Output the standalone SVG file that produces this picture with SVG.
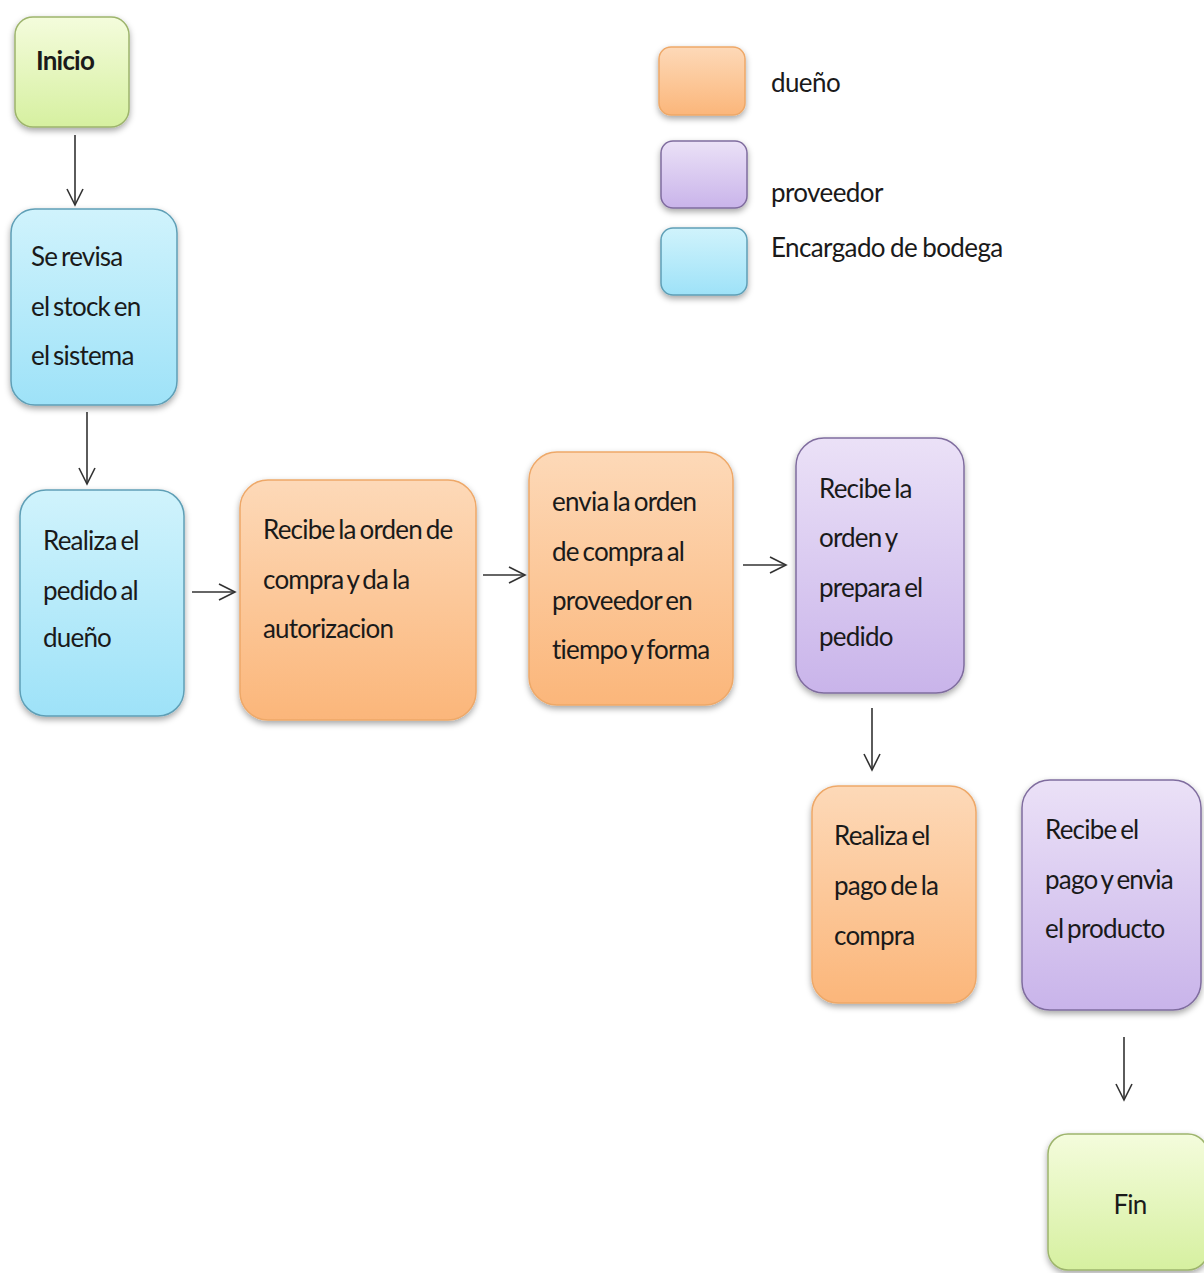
<svg xmlns="http://www.w3.org/2000/svg" width="1204" height="1273" viewBox="0 0 1204 1273">
<defs>
<linearGradient id="gOr" x1="0" y1="0" x2="0" y2="1"><stop offset="0" stop-color="#fdd9b8"/><stop offset="1" stop-color="#fbb67a"/></linearGradient>
<linearGradient id="gPu" x1="0" y1="0" x2="0" y2="1"><stop offset="0" stop-color="#ebe1f7"/><stop offset="1" stop-color="#c9b4ea"/></linearGradient>
<linearGradient id="gBl" x1="0" y1="0" x2="0" y2="1"><stop offset="0" stop-color="#d0f3fc"/><stop offset="1" stop-color="#9ee2f8"/></linearGradient>
<linearGradient id="gGr" x1="0" y1="0" x2="0" y2="1"><stop offset="0" stop-color="#f4fcdc"/><stop offset="1" stop-color="#d6f0a0"/></linearGradient>
<filter id="sh" x="-20%" y="-20%" width="140%" height="140%"><feDropShadow dx="0" dy="3" stdDeviation="3" flood-color="#000" flood-opacity="0.35"/></filter>
<marker id="ah" viewBox="0 0 20 20" refX="18" refY="10" markerWidth="20" markerHeight="20" markerUnits="userSpaceOnUse" orient="auto"><path d="M2,2 L18,10 L2,18" fill="none" stroke="#333" stroke-width="1.6"/></marker>
</defs>
<style>
.or{fill:url(#gOr);stroke:#eea868;stroke-width:1.5;filter:url(#sh)}
.pu{fill:url(#gPu);stroke:#7f6c9e;stroke-width:1.5;filter:url(#sh)}
.bl{fill:url(#gBl);stroke:#5f9fb6;stroke-width:1.5;filter:url(#sh)}
.gr{fill:url(#gGr);stroke:#9db46c;stroke-width:1.5;filter:url(#sh)}
text{font-family:Lato,"Liberation Sans",sans-serif;font-size:26px;letter-spacing:-0.8px;word-spacing:-2px;fill:#1a1a1a;dominant-baseline:middle}
.lg{font-size:26px;letter-spacing:-0.6px;word-spacing:-1px}
.c{stroke:#333;stroke-width:1.6;fill:none;marker-end:url(#ah)}
</style>
<rect width="1204" height="1273" fill="#ffffff"/>
<g id="legend">
<rect class="or" x="659" y="47" width="86" height="68" rx="12"/>
<rect class="pu" x="661" y="141" width="86" height="67" rx="12"/>
<rect class="bl" x="661" y="228" width="86" height="67" rx="12"/>
<text class="lg" x="771" y="85">dueño</text>
<text class="lg" x="771" y="195">proveedor</text>
<text class="lg" x="771" y="250">Encargado de bodega</text>
</g>
<g id="connectors">
<line class="c" x1="75" y1="135" x2="75" y2="205"/>
<line class="c" x1="87" y1="412" x2="87" y2="484"/>
<line class="c" x1="192" y1="592" x2="235" y2="592"/>
<line class="c" x1="483" y1="575" x2="525" y2="575"/>
<line class="c" x1="743" y1="565" x2="786" y2="565"/>
<line class="c" x1="872" y1="708" x2="872" y2="770"/>
<line class="c" x1="1124" y1="1037" x2="1124" y2="1100"/>
</g>
<g id="inicio">
<rect class="gr" x="15" y="17" width="114" height="110" rx="18"/>
<text x="36" y="63" font-weight="bold">Inicio</text>
</g>
<g id="revisa">
<rect class="bl" x="11" y="209" width="166" height="196" rx="24"/>
<text x="31" y="259">Se revisa</text>
<text x="31" y="309">el stock en</text>
<text x="31" y="358">el sistema</text>
</g>
<g id="pedido">
<rect class="bl" x="20" y="490" width="164" height="226" rx="26"/>
<text x="43" y="543">Realiza el</text>
<text x="43" y="593">pedido al</text>
<text x="43" y="640">dueño</text>
</g>
<g id="autoriza">
<rect class="or" x="240" y="480" width="236" height="240" rx="28"/>
<text x="263" y="532">Recibe la orden de</text>
<text x="263" y="582">compra y da la</text>
<text x="263" y="631">autorizacion</text>
</g>
<g id="envia">
<rect class="or" x="529" y="452" width="204" height="253" rx="28"/>
<text x="552" y="504">envia la orden</text>
<text x="552" y="554">de compra al</text>
<text x="552" y="603">proveedor en</text>
<text x="552" y="652">tiempo y forma</text>
</g>
<g id="prepara">
<rect class="pu" x="796" y="438" width="168" height="255" rx="28"/>
<text x="819" y="491">Recibe la</text>
<text x="819" y="540">orden y</text>
<text x="819" y="590">prepara el</text>
<text x="819" y="639">pedido</text>
</g>
<g id="pago">
<rect class="or" x="812" y="786" width="164" height="217" rx="26"/>
<text x="834" y="838">Realiza el</text>
<text x="834" y="888">pago de la</text>
<text x="834" y="938">compra</text>
</g>
<g id="envioproducto">
<rect class="pu" x="1022" y="780" width="179" height="230" rx="28"/>
<text x="1045" y="832">Recibe el</text>
<text x="1045" y="882">pago y envia</text>
<text x="1045" y="931">el producto</text>
</g>
<g id="fin">
<rect class="gr" x="1048" y="1134" width="160" height="136" rx="20"/>
<text x="1130" y="1207" text-anchor="middle">Fin</text>
</g>
</svg>
